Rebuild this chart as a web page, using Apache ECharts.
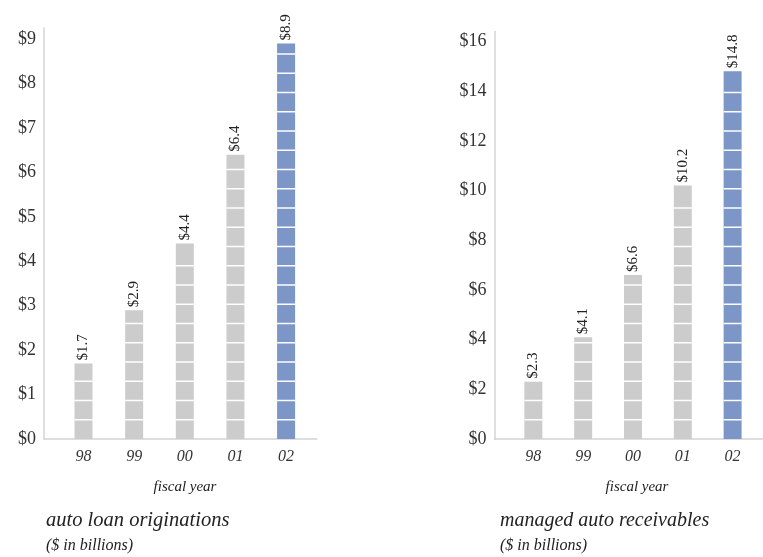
<!DOCTYPE html>
<html>
<head>
<meta charset="utf-8">
<script src="https://cdn.jsdelivr.net/npm/echarts@6/dist/echarts.min.js"></script>
<style>
  html, body { margin: 0; padding: 0; background: #ffffff; }
  #chart { width: 763px; height: 557px; }
</style>
</head>
<body>
<div id="chart"></div>
<script>
// Fiscal years shown on both panels
const years = ['98', '99', '00', '01', '02'];
// Auto loan originations, $ billions
const originations = [1.7, 2.9, 4.4, 6.4, 8.9];
// Managed auto receivables, $ billions
const receivables = [2.3, 4.1, 6.6, 10.2, 14.8];
// Left panel value-axis ticks
const leftTicks = [0, 1, 2, 3, 4, 5, 6, 7, 8, 9];
// Right panel value-axis ticks
const rightTicks = [0, 2, 4, 6, 8, 10, 12, 14, 16];

const SERIF = '"Liberation Serif", "DejaVu Serif", serif';
const GREY = '#cccccc';
const BLUE = '#7b96c7';
const AXIS = '#d4d4d4';
const SEG = 19.25;   // spacing of the white bands across each bar, px
const BAR_W = 18;

// Segmented column with its rotated value label
function renderColumn(params, api) {
  const idx = api.value(0);
  const val = api.value(1);
  const base = api.coord([idx, 0]);
  const top = api.coord([idx, val]);
  const x = base[0] - BAR_W / 2;
  const h = base[1] - top[1];
  const fill = idx === years.length - 1 ? BLUE : GREY;
  const children = [{
    type: 'rect',
    shape: { x: x, y: top[1], width: BAR_W, height: h },
    style: { fill: fill }
  }];
  for (let y = base[1] - SEG; y > top[1] + 5; y -= SEG) {
    children.push({
      type: 'rect',
      shape: { x: x, y: y - 0.75, width: BAR_W, height: 1.5 },
      style: { fill: '#ffffff' }
    });
  }
  children.push({
    type: 'text',
    x: base[0],
    y: top[1] - 3,
    rotation: Math.PI / 2,
    style: {
      text: '$' + val.toFixed(1),
      font: '15px ' + SERIF,
      fill: '#222222',
      align: 'left',
      verticalAlign: 'middle'
    }
  });
  return { type: 'group', children: children };
}

function makeX(gridIndex) {
  return {
    type: 'value',
    gridIndex: gridIndex,
    min: -0.78,
    max: 4.61,
    splitLine: { show: false },
    axisTick: { show: false },
    axisLine: { show: true, onZero: false, lineStyle: { color: AXIS, width: 1.5 } },
    axisLabel: {
      customValues: [0, 1, 2, 3, 4],
      formatter: function (v) { return years[Math.round(v)]; },
      fontFamily: SERIF,
      fontStyle: 'italic',
      fontSize: 16,
      color: '#333333',
      margin: 10
    }
  };
}

function makeY(gridIndex, max, interval, ticks) {
  return {
    type: 'value',
    gridIndex: gridIndex,
    min: 0,
    max: max,
    interval: interval,
    splitLine: { show: false },
    axisTick: { show: false },
    axisLine: { show: true, onZero: false, lineStyle: { color: AXIS, width: 1.5 } },
    axisLabel: {
      customValues: ticks,
      formatter: function (v) { return '$' + v; },
      fontFamily: SERIF,
      fontSize: 18,
      color: '#333333',
      margin: 8,
      verticalAlign: 'middle',
      padding: [0, 0, 12, 0]
    }
  };
}

const chart = echarts.init(document.getElementById('chart'), null, { renderer: 'canvas' });

chart.setOption({
  animation: false,
  grid: [
    { left: 44, top: 28, width: 273, height: 411 },
    { left: 494.5, top: 31.5, width: 290, height: 407.5 }
  ],
  xAxis: [makeX(0), makeX(1)],
  yAxis: [makeY(0, 9.25, 1, leftTicks), makeY(1, 16.4, 2, rightTicks)],
  series: [
    {
      type: 'custom',
      xAxisIndex: 0,
      yAxisIndex: 0,
      renderItem: renderColumn,
      data: originations.map(function (v, i) { return [i, v]; })
    },
    {
      type: 'custom',
      xAxisIndex: 1,
      yAxisIndex: 1,
      renderItem: renderColumn,
      data: receivables.map(function (v, i) { return [i, v]; })
    }
  ],
  graphic: [
    { type: 'text', x: 185, y: 487, style: { text: 'fiscal year', font: 'italic 15px ' + SERIF, fill: '#222222', align: 'center', verticalAlign: 'middle' } },
    { type: 'text', x: 637, y: 487, style: { text: 'fiscal year', font: 'italic 15px ' + SERIF, fill: '#222222', align: 'center', verticalAlign: 'middle' } },
    { type: 'text', x: 46, y: 521, style: { text: 'auto loan originations', font: 'italic 20.5px ' + SERIF, fill: '#222222', align: 'left', verticalAlign: 'middle' } },
    { type: 'text', x: 46, y: 546, style: { text: '($ in billions)', font: 'italic 16px ' + SERIF, fill: '#222222', align: 'left', verticalAlign: 'middle' } },
    { type: 'text', x: 500, y: 521, style: { text: 'managed auto receivables', font: 'italic 20px ' + SERIF, fill: '#222222', align: 'left', verticalAlign: 'middle' } },
    { type: 'text', x: 500, y: 546, style: { text: '($ in billions)', font: 'italic 16px ' + SERIF, fill: '#222222', align: 'left', verticalAlign: 'middle' } }
  ]
});
</script>
</body>
</html>
